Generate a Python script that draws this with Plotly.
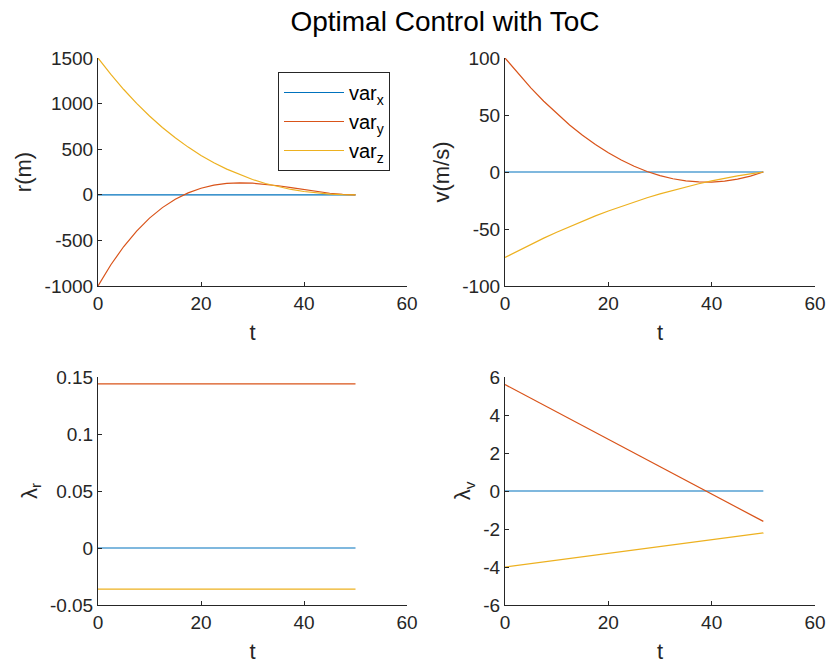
import plotly.graph_objects as go

# time samples (s)
t = [0, 2.5, 5, 7.5, 10, 12.5, 15, 17.5, 20, 22.5, 25, 27.5, 30, 32.5, 35,
     37.5, 40, 42.5, 45, 47.5, 50]

# position r (m)
r_x = [0] * 21
r_y = [-1000, -767.1, -567, -397.4, -256, -140.6, -49, 21.1, 72, 105.9, 125,
       131.6, 128, 116.4, 99, 78.1, 56, 34.9, 17, 4.6, 0]
r_z = [1500, 1319.9, 1154.3, 1002.5, 864, 738.3, 624.8, 522.8, 432, 351.7,
       281.3, 220.2, 168, 124.0, 87.8, 58.6, 36, 19.4, 8.3, 2.0, 0]

# velocity v (m/s)
v_x = [0] * 21
v_y = [100, 86.45, 73.8, 62.05, 51.2, 41.25, 32.2, 24.05, 16.8, 10.45, 5,
       0.45, -3.2, -5.95, -7.8, -8.75, -8.8, -7.95, -6.2, -3.55, 0]
v_z = [-75, -69.11, -63.45, -58.01, -52.8, -47.81, -43.05, -38.51, -34.2,
       -30.11, -26.25, -22.61, -19.2, -16.01, -13.05, -10.31, -7.8, -5.51,
       -3.45, -1.61, 0]

# costates (linear / constant in time)
t_lam = [0, 50]
lr_x = [0, 0]
lr_y = [0.144, 0.144]
lr_z = [-0.036, -0.036]
lv_x = [0, 0]
lv_y = [5.6, -1.6]
lv_z = [-4.0, -2.2]

names = ["var<sub>x</sub>", "var<sub>y</sub>", "var<sub>z</sub>"]
colors = ["#0072BD", "#D95319", "#EDB120"]

W, H = 830, 666
FONT = "Liberation Sans, Arial, Helvetica, sans-serif"
AX = "#262626"

fig = go.Figure()

panels = [
    ("x", "y", t, [r_x, r_y, r_z], True),
    ("x2", "y2", t, [v_x, v_y, v_z], False),
    ("x3", "y3", t_lam, [lr_x, lr_y, lr_z], False),
    ("x4", "y4", t_lam, [lv_x, lv_y, lv_z], False),
]
for xa, ya, tt, series, leg in panels:
    for s, nm, c in zip(series, names, colors):
        fig.add_trace(go.Scatter(x=tt, y=s, mode="lines", name=nm,
                                 line=dict(color=c, width=1.2),
                                 xaxis=xa, yaxis=ya, showlegend=leg))

xd = [[98 / W, 407 / W], [505 / W, 815 / W]]
yd_top = [1 - 286 / H, 1 - 58 / H]
yd_bot = [1 - 605 / H, 1 - 377 / H]

def xax(dom, anchor):
    return dict(domain=dom, anchor=anchor, range=[0, 60], tickvals=[0, 20, 40, 60],
                showline=True, linecolor=AX, linewidth=1, ticks="inside",
                ticklen=4, tickcolor=AX, showgrid=False, zeroline=False,
                automargin=False,
                tickfont=dict(size=19, color=AX, family=FONT),
                title=dict(text="t", font=dict(size=22, color=AX, family=FONT), standoff=11),
                mirror=False)

def yax(dom, anchor, rng, tv, tt, label):
    return dict(domain=dom, anchor=anchor, range=rng, tickvals=tv, ticktext=tt,
                showline=True, linecolor=AX, linewidth=1, ticks="inside",
                ticklen=4, tickcolor=AX, showgrid=False, zeroline=False,
                automargin=False,
                tickfont=dict(size=19, color=AX, family=FONT),
                title=dict(text=label, font=dict(size=22, color=AX, family=FONT), standoff=6))

fig.update_layout(
    width=W, height=H,
    margin=dict(l=0, r=0, t=0, b=0, autoexpand=False),
    paper_bgcolor="white", plot_bgcolor="white",
    font=dict(family=FONT, color=AX),
    title=dict(text="Optimal Control with ToC", x=445 / W, xanchor="center",
               y=1 - 21 / H, yanchor="middle", automargin=False,
               font=dict(size=28, color="black", family=FONT)),
    xaxis=xax(xd[0], "y"),
    yaxis=yax(yd_top, "x", [-1000, 1500], [-1000, -500, 0, 500, 1000, 1500],
              ["-1000", "-500", "0", "500", "1000", "1500"], "r(m)"),
    xaxis2=xax(xd[1], "y2"),
    yaxis2=yax(yd_top, "x2", [-100, 100], [-100, -50, 0, 50, 100],
               ["-100", "-50", "0", "50", "100"], "v(m/s)"),
    xaxis3=xax(xd[0], "y3"),
    yaxis3=yax(yd_bot, "x3", [-0.05, 0.15], [-0.05, 0, 0.05, 0.1, 0.15],
               ["-0.05", "0", "0.05", "0.1", "0.15"], "λ<sub>r</sub>"),
    xaxis4=xax(xd[1], "y4"),
    yaxis4=yax(yd_bot, "x4", [-6, 6], [-6, -4, -2, 0, 2, 4, 6],
               ["-6", "-4", "-2", "0", "2", "4", "6"], "λ<sub>v</sub>"),
    legend=dict(x=278 / W, y=1 - 72 / H, xanchor="left", yanchor="top",
                bgcolor="white", bordercolor=AX, borderwidth=1,
                font=dict(size=20, color="black", family=FONT),
                tracegroupgap=0, itemwidth=60),
    showlegend=True,
)

fig.write_html("out.html")
